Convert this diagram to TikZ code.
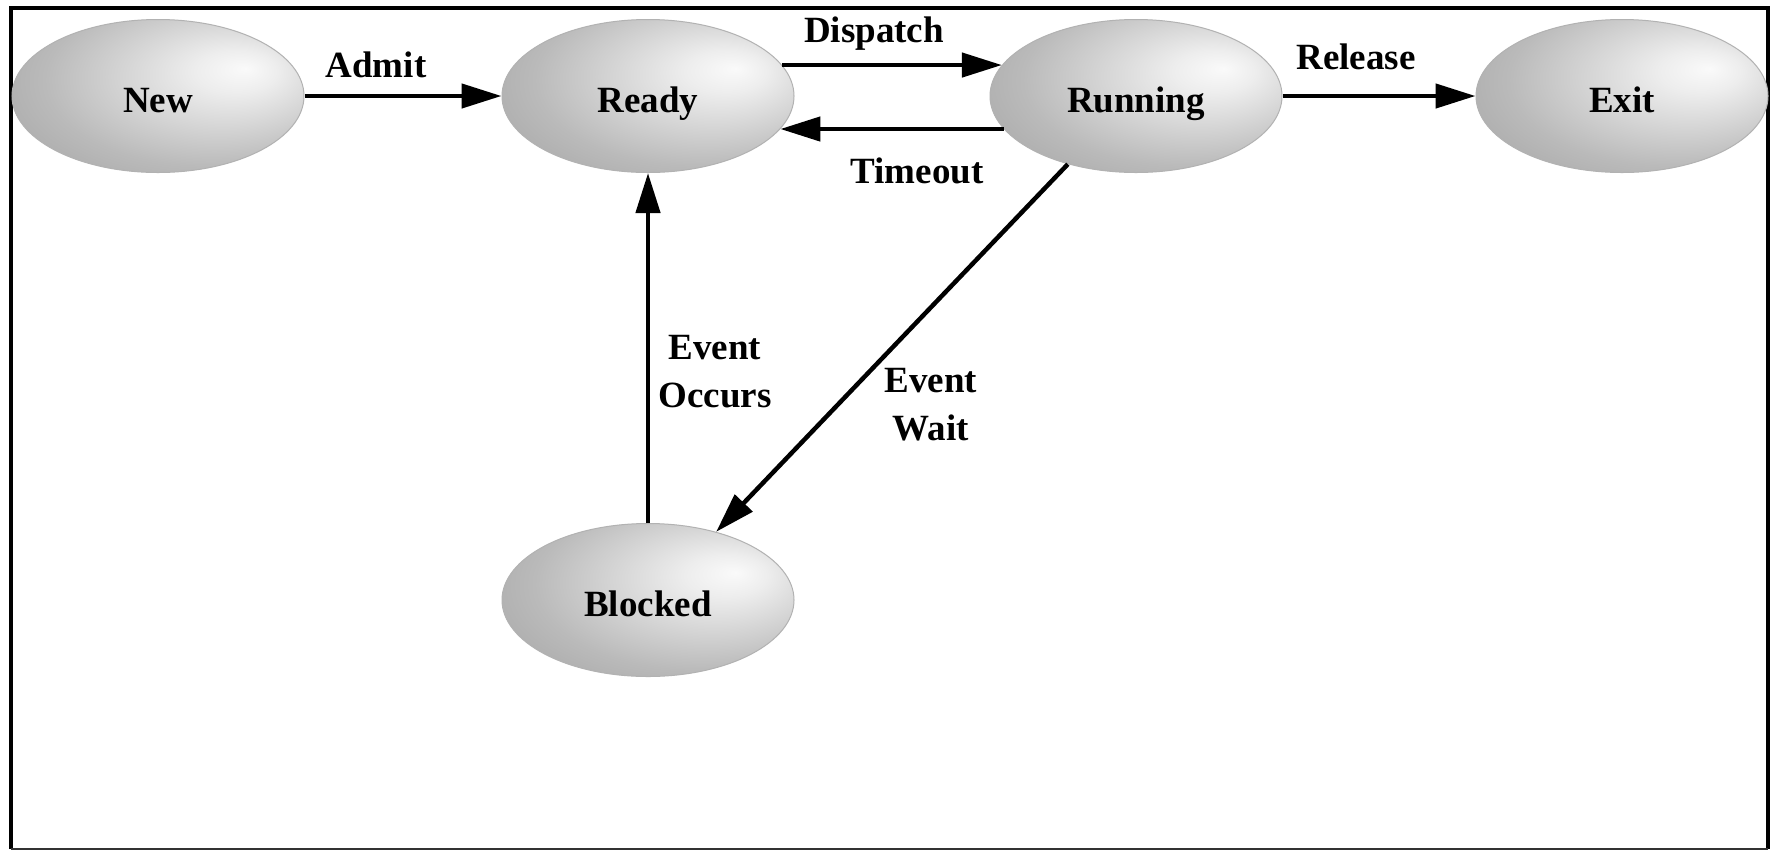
\documentclass[tikz,border=0pt]{standalone}
\usepackage{fontspec}
\setmainfont{Liberation Serif}
\usetikzlibrary{shapes.geometric,arrows.meta}

% Grey ball shading, highlight to the upper right
\pgfdeclareradialshading{stateball}{\pgfpoint{15bp}{9bp}}{%
  color(0bp)=(white!98!black);
  color(7bp)=(white!93!black);
  color(28bp)=(black!27);
  color(48bp)=(black!40);
  color(66bp)=(black!50)}

\tikzset{
  state/.style={ellipse, shading=stateball, draw=black!30, line width=0.5pt,
    minimum width=146pt, minimum height=76.5pt, inner sep=0pt,
    text height=16pt, text depth=0pt,
    font=\fontsize{18.5}{24}\selectfont\bfseries},
  trans/.style={line width=2.25pt, -{Triangle[length=20pt,width=12pt]}},
  lbl/.style={font=\fontsize{18.5}{24}\selectfont\bfseries, align=center, inner sep=0pt}
}

\begin{document}
\begin{tikzpicture}[x=0.5pt, y=-0.5pt]
  \useasboundingbox (0,0) rectangle (1776,853);
  \fill[white] (0,0) rectangle (1776,853);

  % frame
  \draw[line width=2pt] (11,849) -- (11,8) -- (1768,8) -- (1768,849);
  \draw[line width=1pt, black!80] (11,849) -- (1768,849);

  % states
  \node[state] (new)     at (158,96)  {New};
  \node[state] (ready)   at (648,96)  {Ready};
  \node[state] (running) at (1136,96) {Running};
  \node[state] (exit)    at (1622,96) {Exit};
  \node[state] (blocked) at (648,600) {Blocked};

  % transitions
  \draw[trans] (new) -- (ready);
  \draw[trans] (ready.13) -- (running.167);
  \draw[trans] (running.194.6) -- (ready.-14.6);
  \draw[trans] (running) -- (exit);
  \draw[trans] (running.225) -- (blocked.45);
  \draw[trans] (blocked) -- (ready);

  % labels
  \node[lbl] (lAdmit)    at (376,65)  {Admit};
  \node[lbl] (lDispatch) at (874,34)  {Dispatch};
  \node[lbl] (lTimeout)  at (917,171) {Timeout};
  \node[lbl] (lRelease)  at (1356,57) {Release};
  \node[lbl] (lOccurs)   at (715,372) {Event\\Occurs};
  \node[lbl] (lWait)     at (931,405) {Event\\Wait};
\end{tikzpicture}
\end{document}
